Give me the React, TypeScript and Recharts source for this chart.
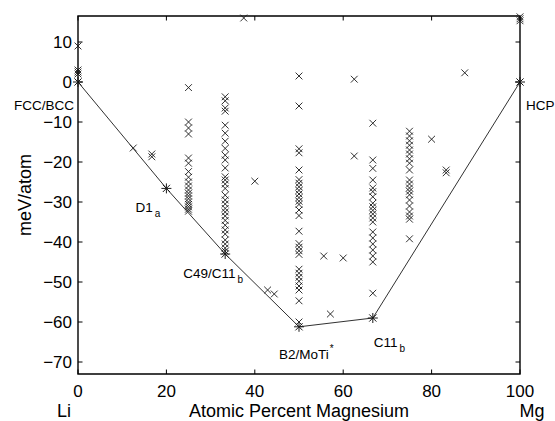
import { ScatterChart, Scatter, XAxis, YAxis, ReferenceArea } from "recharts";

// candidate structures, grouped by composition (at.% Mg)
const compositions = [0, 12.5, 16.7, 25, 33.3, 37.5, 40, 42.9, 44.4, 50, 55.6, 57.1, 60, 62.5, 66.7, 75, 80, 83.3, 87.5, 100];
const energies = [
  [9, 3, 2.5, 2],
  [-16.5],
  [-18, -18.7],
  [-1.4, -10, -11.5, -13, -19, -20.3, -22.4, -23.8, -25, -26, -27, -27.8, -28.5, -29.2, -30, -30.6, -31.2, -31.8, -32.3],
  [-3.7, -4.7, -6.5, -7.3, -10.8, -12.8, -14.8, -16.6, -18.3, -19.5, -21.5, -23.7, -24.5, -25.5, -26.6, -28.3, -29.5, -30.5, -31.6, -32.5, -33.5, -34.6, -35.8, -37, -38, -39.5, -40.5, -41.5, -42.3],
  [16],
  [-24.8],
  [-52],
  [-53],
  [1.5, -6, -16.7, -17.7, -22, -24.4, -25.3, -26.2, -27.1, -28, -28.9, -29.8, -30.6, -32, -33.4, -37.3, -40.4, -41.3, -42.2, -43.1, -46.8, -47.8, -48.8, -49.8, -51, -52, -54.7, -60],
  [-43.5],
  [-58],
  [-44],
  [0.7, -18.5],
  [-10.3, -19.5, -21.6, -24.5, -26.5, -27.4, -28.7, -30.3, -31.2, -32.1, -33, -34, -35, -37.5, -39, -40.5, -42, -43.5, -45, -52.8],
  [-12.3, -13.5, -14.7, -15.8, -17, -18, -19.2, -20.3, -22, -24.5, -25.5, -26.5, -27.3, -28.2, -29.5, -31, -32.5, -33.5, -34.3, -39.2],
  [-14.3],
  [-22, -22.7],
  [2.3],
  [16.3, 15.8, 15.3],
];

// ground-state hull
const hullX = [0, 20, 33.3, 50, 66.7, 100];
const hullE = [0, -26.6, -43, -61.2, -59, 0];
const hullNames = ["FCC/BCC", "D1", "C49/C11", "B2/MoTi", "C11", "HCP"];
const hullSubs = ["", "a", "b", "*", "b", ""];

const xTicks = [0, 20, 40, 60, 80, 100];
const yTicks = [10, 0, -10, -20, -30, -40, -50, -60, -70];

const candidates = compositions.flatMap((x, i) => energies[i].map((e) => ({ x, e })));
const hull = hullX.map((x, i) => ({ x, e: hullE[i], name: hullNames[i], sub: hullSubs[i] }));

const FONT = "'Liberation Sans', Arial, Helvetica, sans-serif";
const PLOT_LEFT = 78;
const PLOT_RIGHT = 520;
const PLOT_TOP = 16;
const PLOT_BOTTOM = 374;
const TICK = 4.5;
const INK = "#1a1a1a";

// label placement relative to each hull point
const labelStyle = [
  { anchor: "end", dx: -4, dy: 28 },
  { anchor: "start", dx: -31, dy: 24 },
  { anchor: "start", dx: -42, dy: 24 },
  { anchor: "start", dx: -20, dy: 32 },
  { anchor: "start", dx: 1, dy: 29 },
  { anchor: "start", dx: 6, dy: 28 },
];

const Cross = (props: any) => {
  const { cx, cy } = props;
  const r = 3.4;
  return (
    <path
      d={`M${cx - r},${cy - r}L${cx + r},${cy + r}M${cx - r},${cy + r}L${cx + r},${cy - r}`}
      stroke={INK}
      strokeWidth={0.9}
      fill="none"
    />
  );
};

const Star = (props: any) => {
  const { cx, cy, payload, index } = props;
  const r = 5;
  const d = 3.6;
  const st = labelStyle[index] || labelStyle[0];
  const sup = payload.sub === "*";
  return (
    <g>
      <path
        d={`M${cx - r},${cy}L${cx + r},${cy}M${cx},${cy - r}L${cx},${cy + r}M${cx - d},${cy - d}L${cx + d},${cy + d}M${cx - d},${cy + d}L${cx + d},${cy - d}`}
        stroke={INK}
        strokeWidth={1}
      />
      <text x={cx + st.dx} y={cy + st.dy} textAnchor={st.anchor} fontFamily={FONT} fontSize={13.5} fill="#000">
        {payload.name}
        {payload.sub ? (
          <tspan dx={sup ? 1 : 2} dy={sup ? -7 : 5} fontSize={10}>
            {payload.sub}
          </tspan>
        ) : null}
      </text>
    </g>
  );
};

const fmt = (v: number) => String(v).replace("-", "\u2212");

const XTick = (props: any) => {
  const { x, payload } = props;
  return (
    <g>
      <line x1={x} x2={x} y1={PLOT_BOTTOM} y2={PLOT_BOTTOM - TICK} stroke="#000" />
      <line x1={x} x2={x} y1={PLOT_TOP} y2={PLOT_TOP + TICK} stroke="#000" />
      <text x={x} y={PLOT_BOTTOM + 23} textAnchor="middle" fontFamily={FONT} fontSize={17} fill="#000">
        {fmt(payload.value)}
      </text>
    </g>
  );
};

const YTick = (props: any) => {
  const { y, payload } = props;
  return (
    <g>
      <line x1={PLOT_LEFT} x2={PLOT_LEFT + TICK} y1={y} y2={y} stroke="#000" />
      <line x1={PLOT_RIGHT - TICK} x2={PLOT_RIGHT} y1={y} y2={y} stroke="#000" />
      <text x={PLOT_LEFT - 6} y={y + 6} textAnchor="end" fontFamily={FONT} fontSize={17} fill="#000">
        {fmt(payload.value)}
      </text>
    </g>
  );
};

const XTitle = () => (
  <g fontFamily={FONT} fontSize={18} fill="#000">
    <text x={PLOT_LEFT - 14} y={417} textAnchor="middle">Li</text>
    <text x={(PLOT_LEFT + PLOT_RIGHT) / 2} y={417} textAnchor="middle">Atomic Percent Magnesium</text>
    <text x={PLOT_RIGHT + 12} y={417} textAnchor="middle">Mg</text>
  </g>
);

const YTitle = () => (
  <text
    x={31}
    y={195}
    transform="rotate(-90 31 195)"
    textAnchor="middle"
    fontFamily={FONT}
    fontSize={18}
    fill="#000"
  >
    meV/atom
  </text>
);

export default function App() {
  return (
    <div style={{ position: "absolute", left: 0, top: 0, background: "#fff" }}>
      <ScatterChart width={555} height={421} margin={{ top: PLOT_TOP, right: 555 - PLOT_RIGHT, bottom: 0, left: 0 }}>
        <XAxis
          type="number"
          dataKey="x"
          domain={[0, 100]}
          ticks={xTicks}
          interval={0}
          height={421 - PLOT_BOTTOM}
          axisLine={false}
          tickLine={false}
          tick={<XTick />}
          label={{ content: () => <XTitle /> }}
        />
        <YAxis
          type="number"
          dataKey="e"
          domain={[-73, 16.5]}
          ticks={yTicks}
          interval={0}
          width={PLOT_LEFT}
          axisLine={false}
          tickLine={false}
          tick={<YTick />}
          label={{ content: () => <YTitle /> }}
        />
        <ReferenceArea x1={0} x2={100} y1={-73} y2={16.5} fill="none" stroke="#000" strokeWidth={1.4} />
        <Scatter data={candidates} shape={<Cross />} isAnimationActive={false} />
        <Scatter
          data={hull}
          shape={<Star />}
          line={{ stroke: INK, strokeWidth: 0.9 }}
          isAnimationActive={false}
        />
      </ScatterChart>
    </div>
  );
}
